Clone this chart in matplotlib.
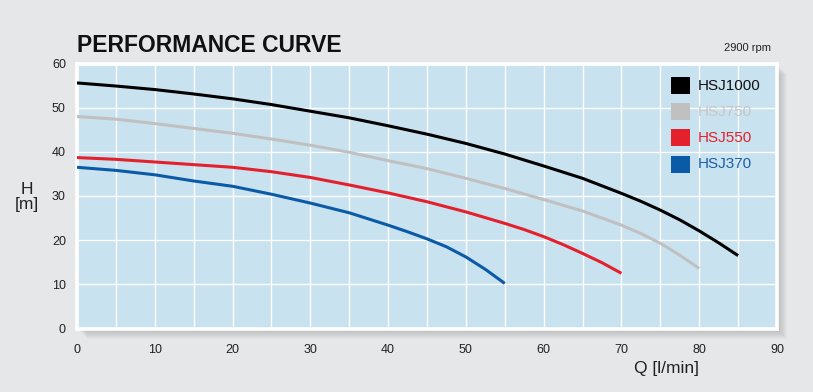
"""Pump performance curves (H vs Q) for the HSJ series at 2900 rpm."""
import matplotlib
matplotlib.use("Agg")
import matplotlib.pyplot as plt
from matplotlib.patches import Rectangle

plt.rcParams["font.family"] = ["Liberation Sans", "DejaVu Sans"]

# flow rate [l/min] and head [m]
Q_1000 = [0, 5, 10, 15, 20, 25, 30, 35, 40, 45, 50, 55, 60, 65, 70, 72.5, 75,
          77.5, 80, 82.5, 85]
H_1000 = [55.6, 54.9, 54.1, 53.1, 52.0, 50.7, 49.2, 47.7, 45.9, 44.0, 41.9,
          39.5, 36.8, 34.0, 30.6, 28.8, 26.8, 24.6, 22.1, 19.4, 16.5]
Q_750 = [0, 5, 10, 15, 20, 25, 30, 35, 40, 45, 50, 55, 60, 65, 70, 72.5, 75,
         77.5, 80]
H_750 = [48.0, 47.4, 46.4, 45.3, 44.2, 42.9, 41.5, 39.9, 38.0, 36.2, 34.0,
         31.7, 29.2, 26.6, 23.4, 21.5, 19.3, 16.6, 13.6]
Q_550 = [0, 5, 10, 15, 20, 25, 30, 35, 40, 45, 50, 55, 57.5, 60, 62.5, 65,
         67.5, 70]
H_550 = [38.7, 38.3, 37.7, 37.1, 36.5, 35.5, 34.2, 32.5, 30.7, 28.7, 26.4,
         23.8, 22.4, 20.8, 19.0, 17.0, 14.9, 12.5]
Q_370 = [0, 5, 10, 15, 20, 25, 30, 35, 40, 42.5, 45, 47.5, 50, 52.5, 55]
H_370 = [36.5, 35.8, 34.8, 33.4, 32.2, 30.4, 28.4, 26.2, 23.4, 21.9, 20.3,
         18.5, 16.2, 13.4, 10.2]

models = ["HSJ1000", "HSJ750", "HSJ550", "HSJ370"]
flows = [Q_1000, Q_750, Q_550, Q_370]
heads = [H_1000, H_750, H_550, H_370]
colors = ["#000000", "#c0c0c0", "#e3202b", "#0b5aa6"]
label_colors = ["#111111", "#c6c6c6", "#e3202b", "#1a5ea8"]

x_ticks = list(range(0, 91, 10))
y_ticks = list(range(0, 61, 10))

W, Hpx = 813, 392
fig = plt.figure(figsize=(W / 100, Hpx / 100), dpi=100, facecolor="#e6e7e9")

left, right, top, bottom = 77, 777, 63.5, 328.5
pos = [left / W, 1 - bottom / Hpx, (right - left) / W, (bottom - top) / Hpx]

# soft drop shadow to the right and below the plot panel
for k in range(1, 11):
    fig.add_artist(Rectangle((pos[0] + k / W, pos[1] - k / Hpx), pos[2], pos[3],
                             transform=fig.transFigure, facecolor="#8a8c90",
                             alpha=0.055, edgecolor="none", zorder=0))

ax = fig.add_axes(pos, zorder=1)
ax.set_facecolor("#c9e2f0")
ax.set_xlim(0, 90)
ax.set_ylim(0, 60)

ax.set_xticks(range(0, 91, 5), minor=True)
ax.set_xticks(x_ticks)
ax.set_yticks(y_ticks)
ax.grid(which="both", axis="x", color="white", linewidth=1.0)
ax.grid(which="major", axis="y", color="white", linewidth=1.0)
ax.set_axisbelow(True)
ax.tick_params(which="both", length=0, labelsize=9, colors="#222222")
ax.tick_params(axis="x", pad=11)
ax.tick_params(axis="y", pad=8)
for s in ax.spines.values():
    s.set_color("white")
    s.set_linewidth(2.6)

for q, h, c in zip(flows, heads, colors):
    ax.plot(q, h, color=c, linewidth=2.2, solid_capstyle="butt",
            solid_joinstyle="round", zorder=3)

# legend: coloured squares with coloured labels
for i, (name, c, lc) in enumerate(zip(models, colors, label_colors)):
    yc = 1 - (85.5 + 26.2 * i - top) / (bottom - top)
    ax.add_patch(Rectangle((0.849, yc - 0.032), 0.027, 0.064, transform=ax.transAxes,
                           facecolor=c, edgecolor="none", zorder=4))
    ax.text(0.887, yc, name, transform=ax.transAxes, color=lc, fontsize=11,
            va="center", ha="left", zorder=4)

fig.text(left / W, 1 - 52 / Hpx, "PERFORMANCE CURVE", fontsize=16.5,
         fontweight="bold", color="#111111", ha="left", va="baseline")
fig.text(771 / W, 1 - 51 / Hpx, "2900 rpm", fontsize=8, color="#222222",
         ha="right", va="baseline")
fig.text(27 / W, 1 - 197 / Hpx, "H\n[m]", fontsize=12.5, color="#222222",
         ha="center", va="center", linespacing=1.0)
fig.text(666 / W, 1 - 369 / Hpx, "Q [l/min]", fontsize=12.5, color="#222222",
         ha="center", va="center")

fig.savefig("out.png", dpi=100, facecolor=fig.get_facecolor())
